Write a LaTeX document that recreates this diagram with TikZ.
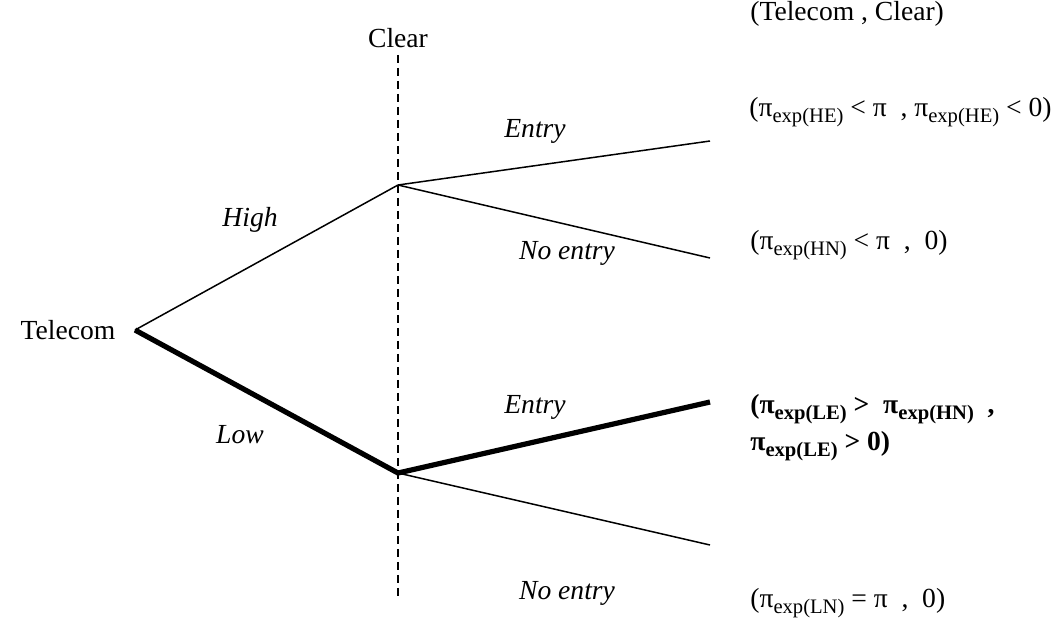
\documentclass[tikz,border=0pt]{standalone}
\usepackage{fontspec}
\setmainfont{Liberation Serif}
\usetikzlibrary{positioning}

\newcommand{\pix}[1]{π\raisebox{-0.5ex}{\fontsize{10.3}{12}\selectfont exp(#1)}}

\begin{document}
\begin{tikzpicture}[x=0.5pt,y=-0.5pt,font=\fontsize{13.8}{16}\selectfont,
	branch/.style={line width=0.75pt},
	chosen/.style={line width=2.6pt},
	act/.style={font=\fontsize{13.8}{16}\selectfont\itshape},
	payoff/.style={anchor=west,inner sep=0pt}]
			\useasboundingbox (0,0) rectangle (1058,622);
			
			\coordinate (R) at (135,330);
			\coordinate (H) at (398,185);
			\coordinate (L) at (398,473);
			\coordinate (HE) at (710,141);
			\coordinate (HN) at (710,258);
			\coordinate (LE) at (710,402);
			\coordinate (LN) at (710,545);
			\coordinate (D) at (398,597);
			
			\node (telecom) at (68,330) {Telecom};
			\node (clear) at (398,38) {Clear};
			\draw[branch,dash pattern=on 4pt off 2.5pt] (clear.south)--(D);
			
			\draw[branch] (R)--(H);
			\draw[chosen] (R)--(L);
			\draw[branch] (H)--(HE);
			\draw[branch] (H)--(HN);
			\draw[chosen] (L)--(LE);
			\draw[branch] (L)--(LN);
			
			\node[act] (high) at (250,220) {High};
			\node[act] (low) at (240,435) {Low};
			\node[act] (hentry) at (535,131) {Entry};
			\node[act] (hnoentry) at (567,253) {No entry};
			\node[act] (lentry) at (535,407) {Entry};
			\node[act] (lnoentry) at (567,593) {No entry};
			
			\node[payoff] (players) at (750,14) {(Telecom , Clear)};
			\node[payoff] (payHE) at (749,112) {(\pix{HE} < π \ , \pix{HE} < 0)};
			\node[payoff] (payHN) at (750,245) {(\pix{HN} < π \ , \ 0)};
			\node[payoff,font=\fontsize{13.8}{18.5}\selectfont\bfseries,align=left,anchor=north west] (payLE) at (750,394)
				{(\pix{LE} > \ \pix{HN} \ ,\\ \pix{LE} > 0)};
			\node[payoff] (payLN) at (750,603) {(\pix{LN} = π \ , \ 0)};
		\end{tikzpicture}
\end{document}
